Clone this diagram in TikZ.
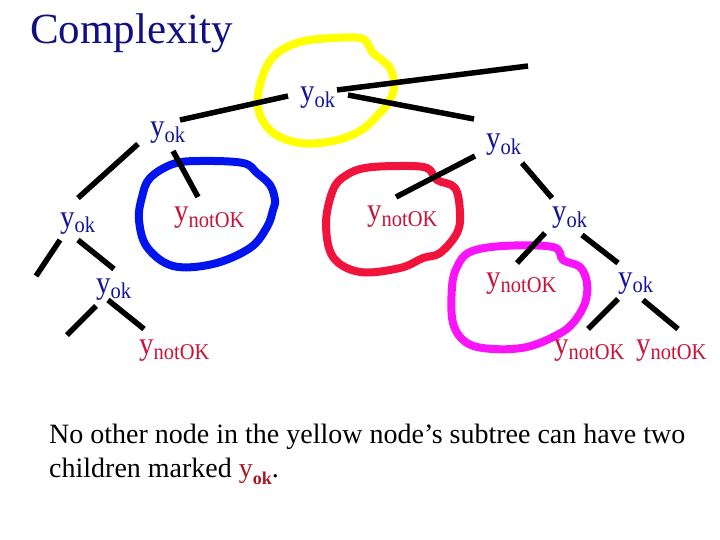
\documentclass[tikz,border=0pt]{standalone}
\usepackage{fontspec}
\setmainfont{Liberation Serif}
\usepackage{graphicx}
\definecolor{titlec}{RGB}{16,16,128}
\definecolor{okc}{RGB}{20,20,150}
\definecolor{notokc}{RGB}{200,20,60}
\definecolor{yokred}{RGB}{170,25,35}
\definecolor{yelc}{RGB}{255,255,0}
\definecolor{bluec}{RGB}{0,20,240}
\definecolor{redc}{RGB}{240,20,60}
\definecolor{magc}{RGB}{250,20,250}
\newcommand{\lab}[1]{\scalebox{1}[1.1]{\fontsize{29}{31}\selectfont y\raisebox{-5pt}{\fontsize{20.5}{22}\selectfont #1}}}
\tikzset{
  lbl/.style={anchor=base west, inner sep=0pt},
  okn/.style={lbl, text=okc},
  notn/.style={lbl, text=notokc},
  edge/.style={line width=5.5pt, black},
  blob/.style={line width=8pt, line join=round}
}
\begin{document}
\begin{tikzpicture}[x=1pt,y=-1pt]
\useasboundingbox (0,0) rectangle (720,540);
\fill[white] (0,0) rectangle (720,540);
% blobs
\draw[blob, yelc] plot[smooth cycle, tension=0.6] coordinates {(258,108) (262,78) (275,55) (300,42) (333,38) (360,38) (368,44) (373,53) (390,68) (394,88) (388,103) (378,115) (360,131) (333,141) (300,143) (272,132)};
\draw[blob, bluec] plot[smooth cycle, tension=0.6] coordinates {(142,197) (150,178) (173,164) (200,161) (243,163) (257,173) (270,185) (275,200) (273,210) (267,227) (250,248) (213,264) (173,266) (147,247) (139,220)};
\draw[blob, redc] plot[smooth cycle, tension=0.6] coordinates {(326,223) (333,190) (345,176) (365,168) (400,166) (427,168) (437,180) (455,188) (460,213) (457,233) (440,253) (423,258) (400,268) (360,272) (333,257)};
\draw[blob, magc] plot[smooth cycle, tension=0.6] coordinates {(457,267) (470,252) (503,246) (553,247) (563,260) (580,267) (587,283) (585,303) (573,323) (557,335) (527,347) (493,349) (467,343) (453,323) (452,287)};
% labels
\node[anchor=base west, inner sep=0pt, text=titlec, font=\fontsize{43}{46}\selectfont] (title) at (30,44) {Complexity};
\node[okn] (root) at (300,102) {\lab{ok}};
\node[okn] (l1) at (150,137) {\lab{ok}};
\node[okn] (r1) at (486,149) {\lab{ok}};
\node[okn] (l2) at (60,227) {\lab{ok}};
\node[notn] (bn) at (174,222) {\lab{notOK}};
\node[notn] (rn) at (367,221) {\lab{notOK}};
\node[okn] (r2) at (552,222) {\lab{ok}};
\node[okn] (l3) at (96,293) {\lab{ok}};
\node[notn] (mn) at (486,287) {\lab{notOK}};
\node[okn] (r3) at (618,287) {\lab{ok}};
\node[notn] (l4) at (139,354) {\lab{notOK}};
\node[notn] (r4a) at (554,354) {\lab{notOK}};
\node[notn] (r4b) at (636,354) {\lab{notOK}};
% edge end points
\coordinate (e1a) at (337,90); \coordinate (e1b) at (528,66);
\coordinate (e2a) at (348,95); \coordinate (e2b) at (474,119);
\coordinate (e3a) at (180,120); \coordinate (e3b) at (288,96);
\coordinate (e4a) at (138,144); \coordinate (e4b) at (78,198);
\coordinate (e5a) at (173,151); \coordinate (e5b) at (198,197);
\coordinate (e6a) at (475,156); \coordinate (e6b) at (396,197);
\coordinate (e7a) at (522,163); \coordinate (e7b) at (552,198);
\coordinate (e8a) at (60,240); \coordinate (e8b) at (36,276);
\coordinate (e9a) at (78,240); \coordinate (e9b) at (114,269);
\coordinate (e10a) at (96,306); \coordinate (e10b) at (67,335);
\coordinate (e11a) at (108,300); \coordinate (e11b) at (144,329);
\coordinate (e12a) at (545,233); \coordinate (e12b) at (517,263);
\coordinate (e13a) at (582,235); \coordinate (e13b) at (618,263);
\coordinate (e14a) at (618,299); \coordinate (e14b) at (588,329);
\coordinate (e15a) at (643,300); \coordinate (e15b) at (678,329);
\foreach \i in {1,...,15} { \draw[edge] (e\i a) -- (e\i b); }
% bottom text
\node[anchor=base west, inner sep=0pt, font=\fontsize{28}{30}\selectfont] (t1) at (49,443) {No other node in the yellow node’s subtree can have two};
\node[anchor=base west, inner sep=0pt, font=\fontsize{28}{30}\selectfont] (t2) at (49,477) {children marked \textcolor{yokred}{y\raisebox{-7pt}{\fontsize{18}{20}\selectfont\bfseries ok}}.};
\end{tikzpicture}
\end{document}
